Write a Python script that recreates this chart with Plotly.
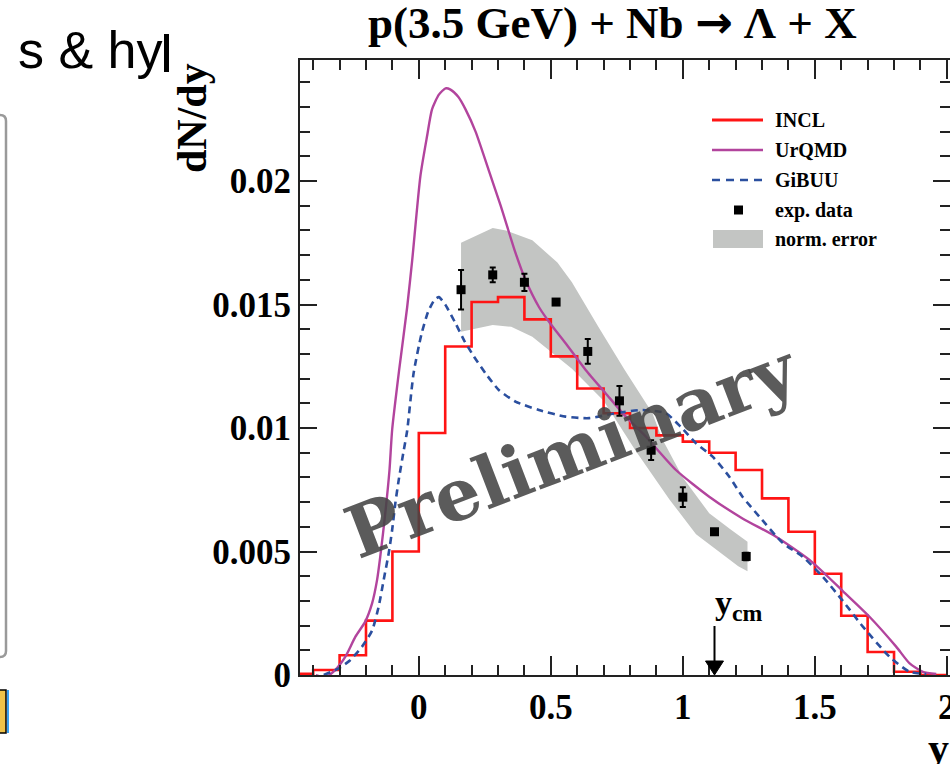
import plotly.graph_objects as go

# ---------------- data ----------------
# exp. data: rapidity, dN/dy, stat. error
exp_y = [0.16, 0.28, 0.40, 0.52, 0.64, 0.76, 0.88, 1.00, 1.12, 1.24]
exp_dndy = [0.0156, 0.0162, 0.0159, 0.0151, 0.0131, 0.0111, 0.0091, 0.0072, 0.0058, 0.0048]
exp_err = [0.0008, 0.0003, 0.00035, 0.0001, 0.0005, 0.0006, 0.0004, 0.0004, 0.0001, 0.00015]

# normalisation error band (upper / lower edge)
band_upper_x = [0.16, 0.28, 0.33, 0.43, 0.525, 0.58, 0.68, 0.78, 0.885, 0.92, 1.0, 1.056, 1.10, 1.18, 1.245]
band_upper_y = [0.0175, 0.0181, 0.0180, 0.0176, 0.0167, 0.0159, 0.0141, 0.01235, 0.0106, 0.0096, 0.0080, 0.0072, 0.00655, 0.0059, 0.0054]
band_lower_x = [0.16, 0.28, 0.35, 0.43, 0.50, 0.58, 0.70, 0.82, 0.95, 1.05, 1.21, 1.245]
band_lower_y = [0.0139, 0.01417, 0.0141, 0.0137, 0.0131, 0.0124, 0.0111, 0.0091, 0.0071, 0.0057, 0.0044, 0.0042]

# INCL histogram: lower bin edges (width 0.1) and contents
incl_low_edges = [-0.5, -0.4, -0.3, -0.2, -0.1, 0.0, 0.1, 0.2, 0.3, 0.4, 0.5, 0.6, 0.7,
                  0.8, 0.9, 1.0, 1.1, 1.2, 1.3, 1.4, 1.5, 1.6, 1.7, 1.8, 1.9]
incl_dndy = [0.00005, 0.0002, 0.0008, 0.0022, 0.0050, 0.0098, 0.0133, 0.0151, 0.0153, 0.0144,
             0.0129, 0.0116, 0.0106, 0.0100, 0.0097, 0.00945, 0.0090, 0.0083, 0.00715, 0.0058,
             0.0041, 0.0024, 0.00093, 0.00013, 0.0]
incl_bin_width = 0.1

# UrQMD curve
urqmd_y = [-0.39, -0.355, -0.317, -0.278, -0.240, -0.203, -0.177, -0.158, -0.146, -0.127,
           -0.111, -0.101, -0.075, -0.044, -0.025, 0.006, 0.031, 0.050, 0.076, 0.101,
           0.12, 0.15, 0.177, 0.215, 0.266, 0.31, 0.366, 0.404, 0.455, 0.50,
           0.556, 0.632, 0.708, 0.784, 0.860, 0.974, 1.10, 1.226, 1.353, 1.48,
           1.606, 1.707, 1.808, 1.859, 1.909, 1.96]
urqmd_dndy = [0.0, -0.0001, 0.0002, 0.00074, 0.00155, 0.00216, 0.0029, 0.00385, 0.00479, 0.00655,
              0.0083, 0.00992, 0.0123, 0.0149, 0.0168, 0.0202, 0.0218, 0.0229, 0.0235, 0.02375,
              0.0237, 0.0234, 0.0229, 0.0220, 0.0204, 0.0190, 0.0171, 0.0160, 0.0149, 0.0142,
              0.01343, 0.01235, 0.0114, 0.01046, 0.00965, 0.0083, 0.00722, 0.00634, 0.0056, 0.00466,
              0.0034, 0.00236, 0.00115, 0.00047, 0.00013, 0.00004]

# GiBUU curve
gibuu_y = [-0.36, -0.303, -0.26, -0.215, -0.177, -0.152, -0.133, -0.114, -0.101, -0.089,
           -0.076, -0.057, -0.044, -0.02, 0.01, 0.035, 0.06, 0.076, 0.10, 0.139,
           0.171, 0.209, 0.253, 0.303, 0.366, 0.455, 0.556, 0.645, 0.746, 0.847,
           0.935, 0.992, 1.05, 1.113, 1.176, 1.226, 1.29, 1.378, 1.454, 1.53,
           1.606, 1.682, 1.783, 1.859, 1.922]
gibuu_dndy = [0.0, 0.00027, 0.0006, 0.00115, 0.0018, 0.00277, 0.00385, 0.00493, 0.00587, 0.00695,
              0.0079, 0.0091, 0.0099, 0.0122, 0.0138, 0.0147, 0.0152, 0.0153, 0.0150, 0.01424,
              0.01356, 0.01289, 0.01221, 0.01154, 0.01107, 0.01073, 0.01046, 0.0104, 0.0106, 0.01073,
              0.0106, 0.01005, 0.00938, 0.00884, 0.00803, 0.00722, 0.00641, 0.00535, 0.00479, 0.00398,
              0.0030, 0.00196, 0.00074, 0.00013, 0.00004]

y_cm = 1.12

x_ticks = [0, 0.5, 1, 1.5, 2]
x_tick_text = ["0", "0.5", "1", "1.5", "2"]
y_ticks = [0, 0.005, 0.01, 0.015, 0.02]
y_tick_text = ["0", "0.005", "0.01", "0.015", "0.02"]

# ---------------- styles ----------------
W, H = 950, 764
ML, MR, MT, MB = 300, 0, 60, 89
SERIF = "Liberation Serif"
RED = "#ff1414"
MAGENTA = "#b2449d"
BLUE = "#2b4f9f"
BAND = "#c3c5c3"


def px(x):
    return (x - ML) / (W - ML - MR)


def py(y):
    return (H - MB - y) / (H - MT - MB)


def label(x, y, text, size, family=SERIF, xanchor="center", angle=0, color="black", bold=True):
    return dict(x=px(x), y=py(y), xref="paper", yref="paper", showarrow=False,
                xanchor=xanchor, yanchor="middle", text=text, textangle=angle,
                font=dict(family=family, size=size, color=color,
                          weight="bold" if bold else "normal"))


fig = go.Figure()

# normalisation error band
fig.add_trace(go.Scatter(
    x=band_upper_x + band_lower_x[::-1],
    y=band_upper_y + band_lower_y[::-1],
    fill="toself", fillcolor=BAND, mode="lines", line=dict(width=0),
    hoverinfo="skip", showlegend=False))

# INCL as a step histogram
incl_x = incl_low_edges + [incl_low_edges[-1] + incl_bin_width]
incl_v = incl_dndy + [incl_dndy[-1]]
fig.add_trace(go.Scatter(x=incl_x, y=incl_v, mode="lines", line_shape="hv",
                         line=dict(color=RED, width=2.6), showlegend=False))

fig.add_trace(go.Scatter(x=urqmd_y, y=urqmd_dndy, mode="lines", line_shape="spline",
                         line=dict(color=MAGENTA, width=2.4, smoothing=0.6), showlegend=False))

fig.add_trace(go.Scatter(x=gibuu_y, y=gibuu_dndy, mode="lines", line_shape="spline",
                         line=dict(color=BLUE, width=2.6, dash="7px,5px", smoothing=0.6),
                         showlegend=False))

fig.add_trace(go.Scatter(
    x=exp_y, y=exp_dndy, mode="markers",
    marker=dict(symbol="square", size=9, color="black"),
    error_y=dict(type="data", array=exp_err, color="black", thickness=2, width=3),
    showlegend=False))

axis_common = dict(
    showline=True, linecolor="#222222", linewidth=2, mirror="ticks",
    ticks="inside", tickcolor="#222222", tickwidth=1.6,
    showgrid=False, zeroline=False, automargin=False,
    tickfont=dict(family=SERIF, size=35, color="black", weight="bold"),
)

fig.update_xaxes(range=[-0.45, 2.012], tickvals=x_ticks, ticktext=x_tick_text, ticklen=19,
                 ticklabeloverflow="allow",
                 minor=dict(dtick=0.1, tick0=0, ticks="inside", ticklen=10,
                            tickcolor="#222222", tickwidth=1.6),
                 **axis_common)
fig.update_yaxes(range=[0, 0.0249], tickvals=y_ticks, ticktext=y_tick_text, ticklen=17,
                 minor=dict(dtick=0.001, tick0=0, ticks="inside", ticklen=10,
                            tickcolor="#222222", tickwidth=1.6),
                 **axis_common)

ann = []
shapes = []
# title and axis titles
ann.append(label(612, 22, "p(3.5 GeV) + Nb <span style=\"font-family:'DejaVu Sans'\">\u2192</span> \u039b + X", 45))
ann.append(label(192, 118, "dN/dy", 42, angle=-90))
ann.append(label(926, 748, "y", 42, xanchor="left"))

# y_cm marker: arrow pointing down onto the axis
shapes.append(dict(type="line", xref="x", yref="y", xsizemode="pixel", ysizemode="pixel",
                   xanchor=y_cm, yanchor=0, x0=0, x1=0, y0=10, y1=49,
                   line=dict(color="black", width=2)))
shapes.append(dict(type="path", xref="x", yref="y", xsizemode="pixel", ysizemode="pixel",
                   xanchor=y_cm, yanchor=0, path="M-9,14 L9,14 L0,0 Z",
                   fillcolor="black", line=dict(color="black", width=1)))
ann.append(dict(x=y_cm, y=0.00283, xref="x", yref="y", showarrow=False, xanchor="left",
                yanchor="middle", xshift=-2, text="y<sub>cm</sub>",
                font=dict(family=SERIF, size=34, color="black", weight="bold")))

# watermark
ann.append(label(571, 450, "Preliminary", 72, family="DejaVu Serif", angle=-21,
                 color="rgba(68,68,68,0.88)"))

# legend (drawn by hand to keep the ROOT-style layout)
legend_rows = [("INCL", 120), ("UrQMD", 150), ("GiBUU", 180), ("exp. data", 210), ("norm. error", 239)]
for text, yy in legend_rows:
    ann.append(label(773, yy, text, 20, xanchor="left"))
shapes.append(dict(type="line", xref="paper", yref="paper", x0=px(712), x1=px(763),
                   y0=py(120), y1=py(120), line=dict(color=RED, width=3)))
shapes.append(dict(type="line", xref="paper", yref="paper", x0=px(712), x1=px(763),
                   y0=py(150), y1=py(150), line=dict(color=MAGENTA, width=2.5)))
shapes.append(dict(type="line", xref="paper", yref="paper", x0=px(712), x1=px(763),
                   y0=py(180), y1=py(180), line=dict(color=BLUE, width=2.5, dash="8px,6px")))
shapes.append(dict(type="rect", xref="paper", yref="paper", x0=px(734), x1=px(743),
                   y0=py(214.5), y1=py(205.5), fillcolor="black", line=dict(width=0)))
shapes.append(dict(type="rect", xref="paper", yref="paper", x0=px(713), x1=px(763),
                   y0=py(248), y1=py(230), fillcolor=BAND, line=dict(width=0)))

# slide surroundings: heading fragment, side panel and button
ann.append(label(16, 50, "s &amp; hy", 52, family="Liberation Sans", xanchor="left", bold=False))
shapes.append(dict(type="rect", xref="paper", yref="paper", x0=px(164), x1=px(169),
                   y0=py(72), y1=py(34), fillcolor="black", line=dict(width=0)))
shapes.append(dict(type="path", xref="paper", yref="paper",
                   path=(f"M{px(-20)},{py(115)} L{px(0)},{py(115)} "
                         f"Q{px(6)},{py(115)} {px(6)},{py(121)} L{px(6)},{py(651)} "
                         f"Q{px(6)},{py(657)} {px(0)},{py(657)} L{px(-20)},{py(657)}"),
                   line=dict(color="#9a9a9a", width=2.5)))
shapes.append(dict(type="rect", xref="paper", yref="paper", x0=px(-5), x1=px(6),
                   y0=py(733), y1=py(690), fillcolor="#f0c34a", line=dict(color="black", width=1.5)))
shapes.append(dict(type="line", xref="paper", yref="paper", x0=px(8), x1=px(8),
                   y0=py(733), y1=py(690), line=dict(color="#3aa0f0", width=2)))

fig.update_layout(
    width=W, height=H,
    margin=dict(l=ML, r=MR, t=MT, b=MB, autoexpand=False),
    paper_bgcolor="white", plot_bgcolor="white",
    annotations=ann, shapes=shapes, showlegend=False,
)

fig.write_html("out.html")
